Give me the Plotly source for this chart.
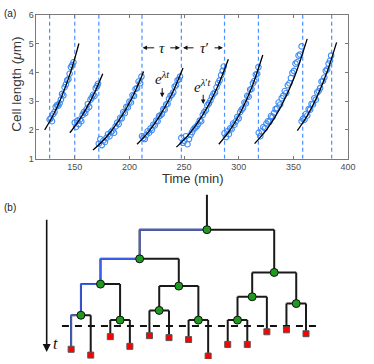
import plotly.graph_objects as go

# ---- panel (a): cell length traces ----
division_lines = [127, 150, 172, 211.5, 247.5, 287, 318, 358.5, 385]

t1 = [127, 128, 129.2, 130.3, 131.5, 132.6, 133.8, 135, 136.1, 137.3, 138.4, 139.6, 140.7, 141.9, 143, 144.2, 145.3, 146.5, 147.6, 148.8]
len1 = [2.36, 2.40, 2.30, 2.55, 2.62, 2.80, 2.86, 2.84, 2.92, 3.05, 3.25, 3.20, 3.48, 3.58, 3.72, 3.76, 3.95, 4.18, 4.25, 4.35]
t2 = [150, 151.2, 152.4, 153.6, 154.8, 156, 157.2, 158.4, 159.6, 160.8, 162, 163.2, 164.4, 165.6, 166.8, 168, 169.2, 170.4, 171.3]
len2 = [2.25, 2.10, 2.32, 2.20, 2.36, 2.30, 2.52, 2.62, 2.58, 2.72, 2.90, 2.80, 3.05, 3.12, 3.22, 3.18, 3.45, 3.52, 3.60]
t3 = [172, 173.4, 174.8, 176.2, 177.6, 179, 180.4, 181.8, 183.2, 184.6, 186, 187.4, 188.8, 190.2, 191.6, 193, 194.4, 195.8, 197.2, 198.6, 200, 201.4, 202.8, 204.2, 205.6, 207, 208.4, 209.8, 211]
len3 = [1.52, 1.68, 1.47, 1.63, 1.58, 1.72, 1.85, 1.78, 1.92, 1.98, 1.90, 2.12, 2.25, 2.20, 2.42, 2.40, 2.62, 2.58, 2.80, 2.78, 2.98, 2.95, 3.20, 3.18, 3.42, 3.45, 3.68, 3.62, 3.85]
t4 = [211.5, 212.8, 214.1, 215.4, 216.7, 218, 219.3, 220.6, 221.9, 223.2, 224.5, 225.8, 227.1, 228.4, 229.7, 231, 232.3, 233.6, 234.9, 236.2, 237.5, 238.8, 240.1, 241.4, 242.7, 244, 245.3, 246.3]
len4 = [1.78, 1.72, 1.68, 1.82, 1.95, 1.90, 2.05, 2.00, 2.18, 2.15, 2.32, 2.30, 2.48, 2.50, 2.55, 2.72, 2.70, 2.88, 2.90, 3.08, 3.18, 3.22, 3.30, 3.50, 3.55, 3.72, 3.75, 3.85]
t5 = [247.5, 248.9, 250.3, 251.7, 253.1, 254.5, 255.9, 257.3, 258.7, 260.1, 261.5, 262.9, 264.3, 265.7, 267.1, 268.5, 269.9, 271.3, 272.7, 274.1, 275.5, 276.9, 278.3, 279.7, 281.1, 282.5, 283.9, 285.3, 286.3]
len5 = [1.72, 1.55, 1.62, 1.78, 1.50, 1.68, 1.82, 1.92, 2.02, 2.08, 2.12, 2.20, 2.32, 2.30, 2.52, 2.62, 2.68, 2.85, 2.92, 3.02, 3.15, 3.25, 3.30, 3.48, 3.62, 3.72, 3.90, 4.05, 4.20]
t6 = [287, 288.3, 289.6, 290.9, 292.2, 293.5, 294.8, 296.1, 297.4, 298.7, 300, 301.3, 302.6, 303.9, 305.2, 306.5, 307.8, 309.1, 310.4, 311.7, 313, 314.3, 315.6, 316.9, 318]
len6 = [1.88, 1.75, 1.95, 1.85, 2.05, 2.02, 2.22, 2.18, 2.30, 2.45, 2.40, 2.62, 2.70, 2.75, 2.95, 2.92, 3.18, 3.15, 3.40, 3.42, 3.62, 3.70, 3.92, 3.95, 4.18]
t7 = [318.3, 319.7, 321.1, 322.5, 323.9, 325.3, 326.7, 328.1, 329.5, 330.9, 332.3, 333.7, 335.1, 336.5, 337.9, 339.3, 340.7, 342.1, 343.5, 344.9, 346.3, 347.7, 349.1, 350.5, 351.9, 353.3, 354.7, 356.1, 357.5]
len7 = [1.90, 1.78, 1.95, 2.10, 2.05, 2.22, 2.30, 2.28, 2.48, 2.45, 2.58, 2.72, 2.75, 2.95, 2.88, 3.10, 3.18, 3.35, 3.28, 3.55, 3.62, 3.80, 3.98, 4.05, 4.30, 4.35, 4.58, 4.62, 4.90]
t8 = [357.5, 358.8, 360.1, 361.4, 362.7, 364, 365.3, 366.6, 367.9, 369.2, 370.5, 371.8, 373.1, 374.4, 375.7, 377, 378.3, 379.6, 380.9, 382.2, 383.5, 384.5]
len8 = [2.30, 2.38, 2.35, 2.55, 2.50, 2.72, 2.70, 2.90, 2.88, 3.10, 3.05, 3.30, 3.35, 3.45, 3.68, 3.70, 3.82, 4.05, 4.10, 4.30, 4.40, 4.58]

fit_t1 = [122.5, 130, 138, 146, 153.8]
fit_len1 = [2.00, 2.49, 3.15, 3.98, 5.00]
fit_t2 = [145.5, 153, 160.5, 168, 175.6]
fit_len2 = [1.90, 2.28, 2.74, 3.28, 3.95]
fit_t3 = [166.7, 178, 190, 202, 213]
fit_len3 = [1.30, 1.71, 2.30, 3.08, 4.03]
fit_t4 = [207, 217.5, 228, 238.5, 249]
fit_len4 = [1.50, 1.93, 2.50, 3.22, 4.15]
fit_t5 = [243, 255, 267, 279, 290.5]
fit_len5 = [1.40, 1.87, 2.51, 3.36, 4.45]
fit_t6 = [281.8, 291.8, 301.8, 311.8, 322]
fit_len6 = [1.50, 1.98, 2.62, 3.46, 4.60]
fit_t7 = [314.5, 326.5, 338.5, 350.5, 362.6]
fit_len7 = [1.52, 2.06, 2.80, 3.79, 5.16]
fit_t8 = [353.6, 362.6, 371.6, 380.6, 389.5]
fit_len8 = [1.97, 2.49, 3.15, 3.99, 5.04]

cells = [(t1, len1), (t2, len2), (t3, len3), (t4, len4), (t5, len5), (t6, len6), (t7, len7), (t8, len8)]
fits = [(fit_t1, fit_len1), (fit_t2, fit_len2), (fit_t3, fit_len3), (fit_t4, fit_len4),
        (fit_t5, fit_len5), (fit_t6, fit_len6), (fit_t7, fit_len7), (fit_t8, fit_len8)]

# ---- panel (b): lineage tree ----
leaf_times = [159, 165, 146, 156, 145, 147, 149, 166, 154, 154, 141, 139, 143]
node_names = ["R", "A", "B", "C", "D", "E", "F", "G", "H", "I", "J", "K"]
node_times = [36, 66, 80, 92, 94, 124, 129, 119, 129, 105, 112, 129]
node_children = [("A", "B"), ("C", "D"), ("I", "J"), ("E", "F"), ("G", "H"), ("L0", "L1"),
                 ("L2", "L3"), ("L4", "L5"), ("L6", "L7"), ("K", "L10"), ("L11", "L12"), ("L8", "L9")]
lineage = ["R", "A", "C", "E", "L0"]
root_birth = 0
snapshot_time = 135

BLUE = "#3f8cf5"
AX = "#7a7a7a"

fig = go.Figure()

for x in division_lines:
    fig.add_trace(go.Scatter(x=[x, x], y=[1, 6], mode="lines",
                             line=dict(color="#4a90ff", width=1.2, dash="4px,3px"), hoverinfo="skip"))
for tt, ll in cells:
    fig.add_trace(go.Scatter(x=tt, y=ll, mode="markers",
                             marker=dict(symbol="circle-open", size=5.5, color=BLUE, line=dict(width=1.1))))
for tt, ll in fits:
    fig.add_trace(go.Scatter(x=tt, y=ll, mode="lines", line=dict(color="black", width=1.3, shape="spline")))

# tree geometry
times = dict(zip(node_names, node_times))
times.update({f"L{i}": v for i, v in enumerate(leaf_times)})
children = dict(zip(node_names, node_children))
xpos = {f"L{i}": i for i in range(len(leaf_times))}


def place(n):
    if n not in xpos:
        a, b = children[n]
        xpos[n] = (place(a) + place(b)) / 2
    return xpos[n]


place("R")

bx, by = [xpos["R"], xpos["R"], None], [root_birth, times["R"], None]
for n in node_names:
    a, b = children[n]
    bx += [xpos[a], xpos[b], None]
    by += [times[n], times[n], None]
    for c in (a, b):
        bx += [xpos[c], xpos[c], None]
        by += [times[n], times[c], None]
fig.add_trace(go.Scatter(x=bx, y=by, mode="lines", line=dict(color="#1a1a1a", width=2),
                         xaxis="x2", yaxis="y2"))

lx, ly = [], []
for p, c in zip(lineage[:-1], lineage[1:]):
    lx += [xpos[p], xpos[c], xpos[c], None]
    ly += [times[p], times[p], times[c], None]
fig.add_trace(go.Scatter(x=lx, y=ly, mode="lines", line=dict(color="#3f5fe6", width=1.6),
                         xaxis="x2", yaxis="y2"))

fig.add_trace(go.Scatter(x=[-0.47, 12.53], y=[snapshot_time, snapshot_time], mode="lines",
                         line=dict(color="#111", width=2, dash="7px,6px"), xaxis="x2", yaxis="y2"))

fig.add_trace(go.Scatter(x=[xpos[n] for n in node_names], y=node_times, mode="markers",
                         marker=dict(symbol="circle", size=8, color="#1e9b1e", line=dict(color="#111", width=1)),
                         xaxis="x2", yaxis="y2"))
fig.add_trace(go.Scatter(x=list(range(len(leaf_times))), y=leaf_times, mode="markers",
                         marker=dict(symbol="square", size=6, color="#ff0000", line=dict(color="#555", width=1)),
                         xaxis="x2", yaxis="y2"))

serif = "Liberation Serif"
mid = dict(xanchor="center", yanchor="middle", showarrow=False)
ann = [
    dict(text="(a)", x=0.027, y=0.975, xref="paper", yref="paper", font=dict(size=10, color="#222"), **mid),
    dict(text="(b)", x=0.027, y=0.4286, xref="paper", yref="paper", font=dict(size=10, color="#222"), **mid),
    dict(text="Cell length (<i>μ</i>m)", x=0.045, y=0.776, xref="paper", yref="paper",
         textangle=-90, font=dict(size=13.5, color="#333"), **mid),
    dict(text="Time (min)", x=0.5277, y=0.511, xref="paper", yref="paper",
         font=dict(size=13, color="#333"), **mid),
    dict(text="<i>τ</i>", x=230, y=4.85, font=dict(family=serif, size=15, color="#111"), **mid),
    dict(text="<i>τ</i>′", x=268.7, y=4.85, font=dict(family=serif, size=15, color="#111"), **mid),
    dict(text="<i>e</i><sup><i>λt</i></sup>", x=230, y=3.8, font=dict(family=serif, size=15, color="#111"), **mid),
    dict(text="<i>e</i><sup><i>λ</i>′<i>t</i></sup>", x=267.5, y=3.54,
         font=dict(family=serif, size=15, color="#111"), **mid),
]
arrows = [(224, 212, 4.85, 4.85), (236, 246.2, 4.85, 4.85), (260, 249, 4.85, 4.85), (276.5, 285.5, 4.85, 4.85),
          (230, 230, 3.5, 3.13), (267.5, 267.5, 3.27, 2.9)]
for ax_, x_, ay_, y_ in arrows:
    ann.append(dict(text="", x=x_, y=y_, ax=ax_, ay=ay_, axref="x", ayref="y", xref="x", yref="y",
                    showarrow=True, arrowhead=2, arrowsize=0.9, arrowwidth=1, arrowcolor="#111"))
ann.append(dict(text="", x=-1.25, y=161.7, ax=-1.25, ay=24.3, axref="x2", ayref="y2", xref="x2", yref="y2",
                showarrow=True, arrowhead=2, arrowsize=1, arrowwidth=1.6, arrowcolor="#111"))
ann.append(dict(text="<i>t</i>", x=-0.82, y=153, xref="x2", yref="y2",
                font=dict(family=serif, size=16, color="#111"), **mid))

axis_common = dict(showline=True, mirror="ticks", linecolor=AX, linewidth=0.8, ticks="inside", ticklen=3,
                   tickcolor=AX, showgrid=False, zeroline=False,
                   tickfont=dict(size=9, color="#4d4d4d"))
fig.update_layout(
    width=374, height=364, margin=dict(l=0, r=0, t=0, b=0),
    plot_bgcolor="white", paper_bgcolor="white", showlegend=False,
    font=dict(family="Liberation Sans"),
    xaxis=dict(domain=[0.0997, 0.951], range=[115, 400], tickvals=[150, 200, 250, 300, 350, 400], **axis_common),
    yaxis=dict(domain=[0.566, 0.9725], range=[1, 6], tickvals=[1, 2, 3, 4, 5, 6], **axis_common),
    xaxis2=dict(domain=[0, 1], range=[-3.635, 15.065], visible=False, anchor="y2"),
    yaxis2=dict(domain=[0, 0.478], range=[169, -5], visible=False, anchor="x2"),
    annotations=ann,
)

fig.write_html("out.html", config={"displayModeBar": False},
               post_script="document.body.style.margin='0';")
